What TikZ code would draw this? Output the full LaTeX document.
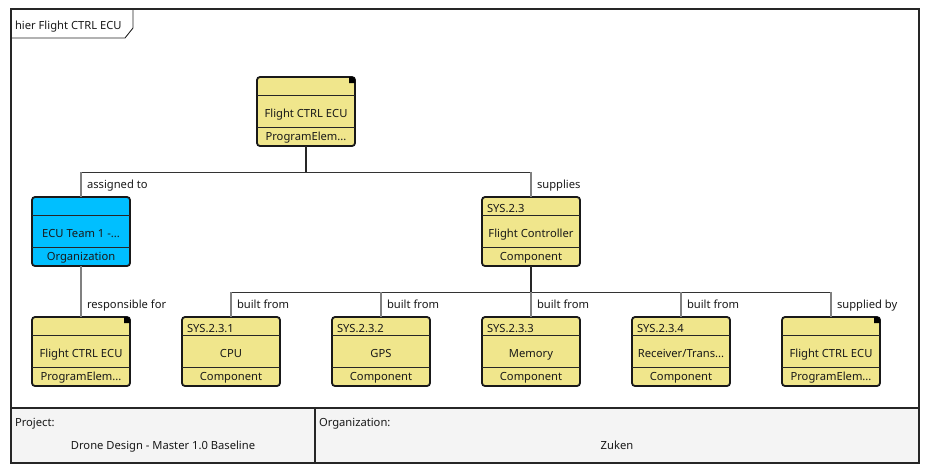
\documentclass[tikz,border=0pt]{standalone}
\usepackage{fontspec}
\setmainfont{Noto Sans}
\begin{document}
\begin{tikzpicture}[x=1pt,y=-1pt,
  blk/.style={draw=black!90,line width=1.8pt,rounded corners=3pt,minimum width=98pt,minimum height=69pt,outer sep=0pt,inner sep=0pt},
  sep/.style={draw=black!85,line width=0.9pt},
  txt/.style={inner sep=0pt,outer sep=0pt,font=\fontsize{11.2}{13}\selectfont,text=black!90,anchor=base},
  lbl/.style={txt,anchor=base west},
  pstub/.style={draw=black!85,line width=1.6pt},
  bus/.style={draw=black!80,line width=0.8pt},
  cstub/.style={draw=black!50,line width=1.6pt},
  frame/.style={draw=black!85,line width=1.8pt}
]
\definecolor{khaki}{HTML}{F0E68C}
\definecolor{sky}{HTML}{00BFFF}
\definecolor{foot}{HTML}{F4F4F4}
\useasboundingbox (0,0) rectangle (933,475);
\newcommand\blk[7]{%
  \node[blk,fill=#4,anchor=north] (#1) at (#2,#3) {};
  \draw[sep] ([yshift=-18pt]#1.north west) -- ([yshift=-18pt]#1.north east);
  \draw[sep] ([yshift=-50pt]#1.north west) -- ([yshift=-50pt]#1.north east);
  \node[lbl] (#1h) at ([xshift=5pt,yshift=-15.5pt]#1.north west) {#5};
  \node[txt] (#1m) at ([yshift=-40pt]#1.north) {#6};
  \node[txt] (#1b) at ([yshift=-63.8pt]#1.north) {#7};
}
\newcommand\mk[1]{%
  \fill[black] ([xshift=-6pt]#1.north east) [rounded corners=2.5pt] -- (#1.north east) [sharp corners] -- ([yshift=-6pt]#1.north east) -- ([xshift=-6pt,yshift=-6pt]#1.north east) -- cycle;
}
% frame
\fill[foot] (11,408) rectangle (919,463);
\draw[frame] (11,9) rectangle (919,463);
\draw[frame] (11,408) -- (919,408);
\draw[frame] (315,408) -- (315,463);
\draw[line width=0.9pt,draw=black!85] (11,38) -- (125,38) -- (133,28) -- (133,9);
\node[lbl] (title) at (15,29) {hier Flight CTRL ECU};
\node[lbl] (projl) at (15,426.5) {Project:};
\node[txt] (projv) at (163,449.8) {Drone Design - Master 1.0 Baseline};
\node[lbl] (orgl) at (319,426.5) {Organization:};
\node[txt] (orgv) at (617,449.8) {Zuken};
% blocks
\blk{top}{306}{77}{khaki}{}{Flight CTRL ECU}{ProgramElem...}
\mk{top}
\blk{ecu}{81}{197}{sky}{}{ECU Team 1 -...}{Organization}
\blk{sys}{531}{197}{khaki}{SYS.2.3}{Flight Controller}{Component}
\blk{lf}{81}{317}{khaki}{}{Flight CTRL ECU}{ProgramElem...}
\mk{lf}
\blk{cpu}{231}{317}{khaki}{SYS.2.3.1}{CPU}{Component}
\blk{gps}{381}{317}{khaki}{SYS.2.3.2}{GPS}{Component}
\blk{mem}{531}{317}{khaki}{SYS.2.3.3}{Memory}{Component}
\blk{rec}{681}{317}{khaki}{SYS.2.3.4}{Receiver/Trans...}{Component}
\blk{rf}{831}{317}{khaki}{}{Flight CTRL ECU}{ProgramElem...}
\mk{rf}
% connectors
\coordinate (busA) at (306,172);
\coordinate (busB) at (531,292);
\draw[pstub] (top.south) -- (busA);
\draw[bus] (ecu.north |- busA) -- (sys.north |- busA);
\draw[cstub] (ecu.north |- busA) -- (ecu.north);
\draw[cstub] (sys.north |- busA) -- (sys.north);
\node[lbl] (la1) at (87,188.3) {assigned to};
\node[lbl] (la2) at (537,188.3) {supplies};
\draw[cstub] (ecu.south) -- (lf.north);
\node[lbl] (lb0) at (87,308.3) {responsible for};
\draw[pstub] (sys.south) -- (busB);
\draw[bus] (cpu.north |- busB) -- (rf.north |- busB);
\foreach \n in {cpu,gps,mem,rec,rf} {\draw[cstub] (\n.north |- busB) -- (\n.north);}
\node[lbl] (lb1) at (237,308.3) {built from};
\node[lbl] (lb2) at (387,308.3) {built from};
\node[lbl] (lb3) at (537,308.3) {built from};
\node[lbl] (lb4) at (687,308.3) {built from};
\node[lbl] (lb5) at (837,308.3) {supplied by};
\end{tikzpicture}
\end{document}
